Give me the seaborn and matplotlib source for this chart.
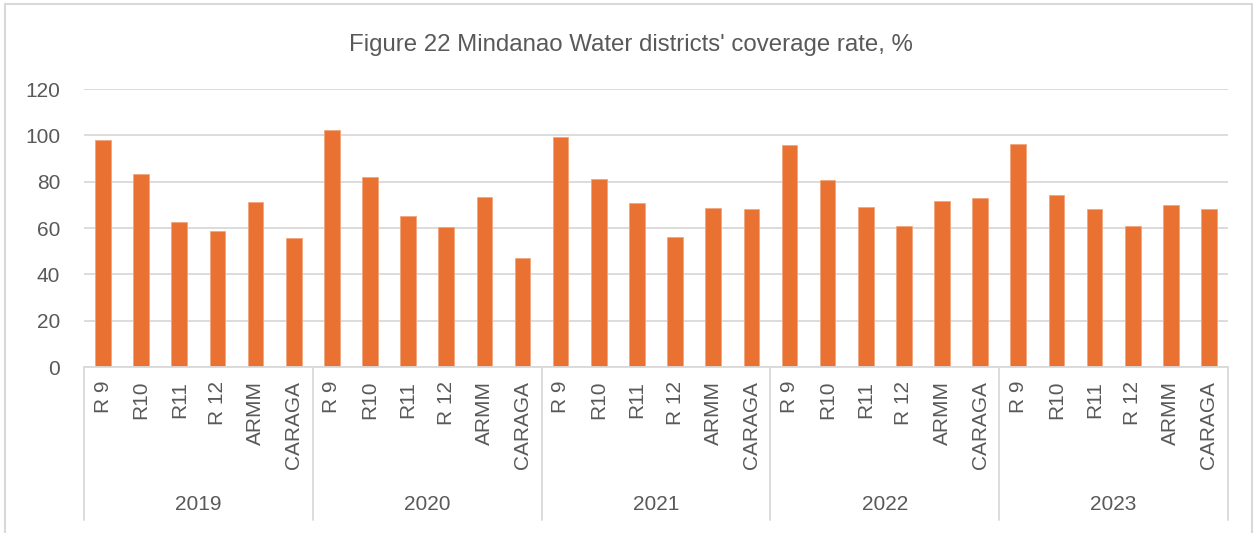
import numpy as np
import pandas as pd
import matplotlib
matplotlib.use('Agg')
import matplotlib.pyplot as plt
import matplotlib.transforms as mtransforms
from matplotlib.patches import Rectangle
import seaborn as sns

# values
years = ['2019', '2020', '2021', '2022', '2023']
regions = ['R 9', 'R10', 'R11', 'R 12', 'ARMM', 'CARAGA']
coverage_2019 = [98.0, 83.2, 62.5, 58.6, 71.2, 55.8]
coverage_2020 = [102.5, 82.2, 65.2, 60.3, 73.3, 47.0]
coverage_2021 = [99.1, 81.0, 70.7, 56.2, 68.7, 68.4]
coverage_2022 = [95.7, 80.7, 69.1, 60.7, 71.7, 73.0]
coverage_2023 = [96.2, 74.2, 68.3, 61.0, 69.9, 68.0]
y_ticks = [0, 20, 40, 60, 80, 100, 120]

all_values = [coverage_2019, coverage_2020, coverage_2021, coverage_2022, coverage_2023]
rows = []
for yr, vals in zip(years, all_values):
    for reg, v in zip(regions, vals):
        rows.append({'slot': yr + '|' + reg, 'year': yr, 'region': reg, 'coverage': v})
df = pd.DataFrame(rows)

sns.set_style('white')
plt.rcParams['font.family'] = ['Liberation Sans', 'DejaVu Sans']
text_col = '#595959'
grid_col = '#D9D9D9'

fig = plt.figure(figsize=(12.59, 5.33), dpi=100)
ax = fig.add_axes([0.0667, 0.3114, 0.9087, 0.5216])

sns.barplot(data=df, x='slot', y='coverage', color='#E97132', saturation=1,
            width=0.41, edgecolor='#F2A77E', linewidth=0.6, ax=ax)

ax.set_ylim(0, 120)
ax.set_yticks(y_ticks)
ax.set_xlim(-0.5, len(df) - 0.5)
ax.set_xticks(range(len(df)))
ax.set_xticklabels(df['region'], rotation=90, fontsize=15, color=text_col)
ax.tick_params(axis='y', labelsize=15, labelcolor=text_col, length=0, pad=17)
ax.tick_params(axis='x', length=0, pad=10)
ax.set_xlabel('')
ax.set_ylabel('')
ax.yaxis.grid(True, color=grid_col, linewidth=1.3)
ax.set_axisbelow(True)
for s in ['left', 'right', 'top']:
    ax.spines[s].set_visible(False)
ax.spines['bottom'].set_color(grid_col)
ax.spines['bottom'].set_linewidth(1.3)

# second level of the category axis: year separators and labels
trans = mtransforms.blended_transform_factory(ax.transData, ax.transAxes)
n = len(regions)
for i in range(len(years) + 1):
    xs = i * n - 0.5
    ax.plot([xs, xs], [0, -0.55], transform=trans, color=grid_col,
            linewidth=1.3, clip_on=False)
for i, yr in enumerate(years):
    ax.text(i * n + (n - 1) / 2, -0.496, yr, transform=trans, ha='center',
            va='center', fontsize=15, color=text_col)

fig.text(0.501, 0.9156, "Figure 22 Mindanao Water districts' coverage rate, %",
         ha='center', va='center', fontsize=17.3, color=text_col)

# chart frame
fig.patches.append(Rectangle((5 / 1259, -0.2), 1252 / 1259 - 5 / 1259, 1.2 - 4 / 533,
                             transform=fig.transFigure, fill=False,
                             edgecolor=grid_col, linewidth=1.5))

fig.savefig('out.png', dpi=100)
